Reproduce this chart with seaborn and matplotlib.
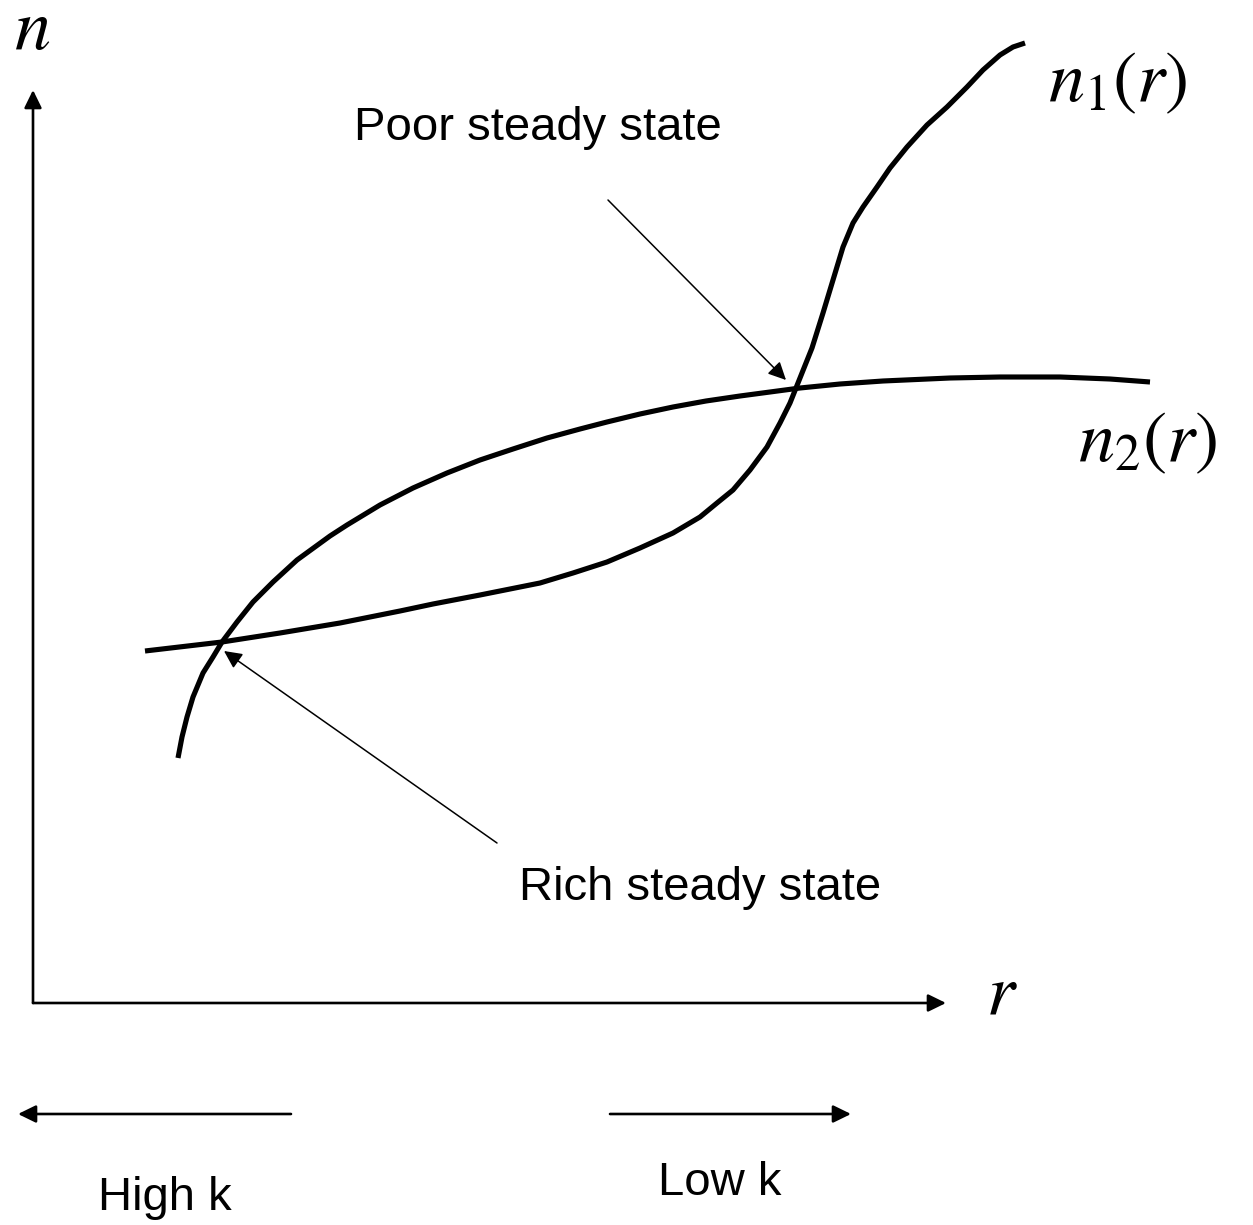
import matplotlib
matplotlib.use("Agg")
import matplotlib.pyplot as plt
import seaborn as sns
import pandas as pd

sns.set_theme(style="white")
plt.rcParams["font.family"] = ["Liberation Sans", "DejaVu Sans"]
plt.rcParams["mathtext.fontset"] = "stix"

# Curve n1(r): flat, then steep S-shaped rise
n1_r = [145, 222, 280, 340, 400, 433, 480, 540, 573, 607, 640, 673, 700, 717,
        733, 750, 767, 780, 790, 798, 812, 823, 833, 843, 853, 863, 877, 890,
        907, 927, 947, 967, 983, 1000, 1013, 1025]
n1_n = [651, 642, 633, 623, 611, 604, 595, 583, 573, 562, 548, 533, 517, 503,
        490, 470, 447, 423, 403, 383, 348, 313, 280, 247, 223, 207, 187, 168,
        147, 125, 107, 87, 70, 55, 47, 43]

# Curve n2(r): concave, levelling off
n2_r = [178, 182, 187, 193, 203, 213, 222, 237, 253, 273, 297, 330, 347, 380,
        413, 447, 480, 513, 547, 580, 607, 640, 673, 706, 740, 770, 800, 840,
        883, 950, 1000, 1060, 1110, 1150]
n2_n = [758, 737, 717, 697, 673, 657, 642, 622, 602, 582, 560, 536, 525, 505,
        488, 473, 460, 449, 438, 429, 422, 414, 407, 401, 396, 392, 388, 384,
        381, 378, 377, 377, 379, 382]

curves = pd.concat([
    pd.DataFrame({"r": n1_r, "n": n1_n, "curve": "n1"}),
    pd.DataFrame({"r": n2_r, "n": n2_n, "curve": "n2"}),
], ignore_index=True)

W, H = 1253, 1225
fig = plt.figure(figsize=(W / 100, H / 100), dpi=100)
ax = fig.add_axes([0, 0, 1, 1])
ax.set_xlim(0, W)
ax.set_ylim(H, 0)
ax.axis("off")

sns.lineplot(data=curves, x="r", y="n", units="curve", estimator=None,
             sort=False, color="black", linewidth=3.7, ax=ax,
             solid_capstyle="butt", solid_joinstyle="round")


def arrow(tip, tail, lw, scale):
    ax.annotate("", xy=tip, xytext=tail,
                arrowprops=dict(arrowstyle="-|>,head_length=0.45,head_width=0.22",
                                color="black", lw=lw, mutation_scale=scale,
                                shrinkA=0, shrinkB=0))


# axes
arrow((33, 90), (33, 1003), 1.9, 24)
arrow((946, 1003), (33, 1003), 1.9, 24)

# direction arrows under the r axis
arrow((18, 1114), (291, 1114), 1.9, 24)
arrow((851, 1114), (610, 1114), 1.9, 24)

# annotation pointers
arrow((786, 380), (608, 200), 1.1, 24)
arrow((224, 651), (497, 843), 1.1, 24)

text_kw = dict(fontsize=34, color="black", family=["Liberation Sans", "DejaVu Sans"])
ax.text(538, 140, "Poor steady state", ha="center", va="baseline", **text_kw)
ax.text(700, 900, "Rich steady state", ha="center", va="baseline", **text_kw)
ax.text(165, 1210, "High k", ha="center", va="baseline", **text_kw)
ax.text(720, 1195, "Low k", ha="center", va="baseline", **text_kw)

math_kw = dict(fontsize=52, color="black")
ax.text(32, 31, "$n$", ha="center", va="center", **math_kw)
ax.text(1002, 995, "$r$", ha="center", va="center", **math_kw)
ax.text(1048, 83, "$n_1(r)$", ha="left", va="center", **math_kw)
ax.text(1078, 443, "$n_2(r)$", ha="left", va="center", **math_kw)

fig.savefig("out.png", dpi=100, facecolor="white")
